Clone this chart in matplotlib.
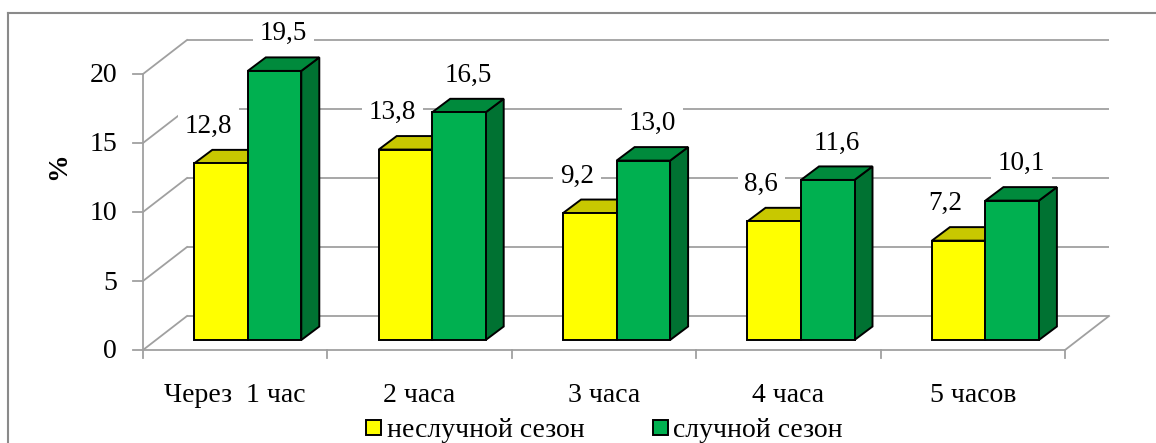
import matplotlib
matplotlib.use('Agg')
import matplotlib.pyplot as plt
from matplotlib.patches import Polygon
from matplotlib.lines import Line2D

# ---------------- data ----------------
categories = ['Через  1 час', '2 часа', '3 часа', '4 часа', '5 часов']
series_names = ['неслучной сезон', 'случной сезон']
off_season = [12.8, 13.8, 9.2, 8.6, 7.2]
mating_season = [19.5, 16.5, 13.0, 11.6, 10.1]
y_ticks = [0, 5, 10, 15, 20]
y_label = '%'

# ---------------- style ----------------
FONT = 'Liberation Serif'
FS_TICK = 20
FS_CAT = 20
FS_VAL = 19.5
FS_LEG = 20
front_colors = ['#FFFF00', '#00B050']
top_colors = ['#C8C800', '#008A3C']
side_colors = ['#A8A800', '#007232']
grid_color = '#A0A0A0'

W, H = 1156, 443
fig = plt.figure(figsize=(W / 100, H / 100), dpi=100)
ax = fig.add_axes([0, 0, 1, 1])

# pixel scale of the front plane (category units / value units)
cat_px = 184.4
val_px = 13.8
x0_px, y0_px = 143, 350
ax.set_xlim(-x0_px / cat_px, (W - x0_px) / cat_px)
ax.set_ylim((y0_px - H) / val_px, y0_px / val_px)
ax.axis('off')

PX = 1 / cat_px
PY = 1 / val_px
n = len(categories)
ymax = y_ticks[-1]

# depth of the 3D box
DX, DY = 44 * PX, 34 * PY
# bar geometry
bar_w = 53.5 * PX
fdx, fdy = 12.6 * PX, 10 * PY      # bar front plane offset
bdx, bdy = 18 * PX, 13.5 * PY      # bar depth

lw_grid = 1.3
# back wall gridlines
for t in y_ticks:
    ax.plot([DX, n + DX], [t + DY, t + DY], color=grid_color, lw=lw_grid, zorder=1,
            solid_capstyle='butt')
    ax.plot([0, DX], [t, t + DY], color=grid_color, lw=lw_grid, zorder=1)
    ax.plot([0, -10 * PX], [t, t], color=grid_color, lw=lw_grid, zorder=1)
    ax.text(-26 * PX, t - 2 * PY, str(t), ha='right', va='center', fontsize=FS_TICK,
            family=FONT, color='black')
# front axes
ax.plot([0, 0], [0, ymax], color=grid_color, lw=lw_grid, zorder=1)
ax.plot([0, n], [0, 0], color=grid_color, lw=lw_grid, zorder=1)
ax.plot([n, n + DX], [0, DY], color=grid_color, lw=lw_grid, zorder=1)
for i in range(n + 1):
    ax.plot([i, i], [0, -8 * PY], color=grid_color, lw=lw_grid, zorder=1)

# category labels
for i, c in enumerate(categories):
    ax.text(i + 0.5, -52 * PY, c, ha='center', va='baseline', fontsize=FS_CAT,
            family=FONT, color='black')


def draw_bar(xl, v, k):
    b = fdy
    front = [(xl, b), (xl + bar_w, b), (xl + bar_w, b + v), (xl, b + v)]
    top = [(xl, b + v), (xl + bar_w, b + v), (xl + bar_w + bdx, b + v + bdy),
           (xl + bdx, b + v + bdy)]
    side = [(xl + bar_w, b), (xl + bar_w + bdx, b + bdy),
            (xl + bar_w + bdx, b + v + bdy), (xl + bar_w, b + v)]
    for poly, col in ((side, side_colors[k]), (top, top_colors[k]), (front, front_colors[k])):
        ax.add_patch(Polygon(poly, closed=True, facecolor=col, edgecolor='black',
                             lw=1.4, joinstyle='miter', zorder=2))


label_dx = [-13 * PX, 9 * PX]
for i in range(n):
    cx = i + 0.5 + fdx
    for k, vals in enumerate([off_season, mating_season]):
        v = vals[i]
        xl = cx - bar_w if k == 0 else cx
        draw_bar(xl, v, k)
        lx = xl + bar_w / 2 + label_dx[k]
        ly = fdy + v + 37 * PY
        ax.text(lx, ly, f'{v:.1f}'.replace('.', ','), ha='center', va='center',
                fontsize=FS_VAL, family=FONT, color='black', zorder=3,
                bbox=dict(boxstyle='square,pad=0.25', facecolor='white',
                          edgecolor='none'))

# y label
fig.text(59 / W, 1 - 166 / H, y_label, rotation=90, ha='center', va='center',
         fontsize=20, fontweight='bold', family=FONT)

# legend
leg_items = [(366, 387), (653, 673)]
for k, (sx, tx) in enumerate(leg_items):
    ax.add_patch(Polygon([((sx - x0_px) * PX, (y0_px - 435) * PY),
                          ((sx + 15 - x0_px) * PX, (y0_px - 435) * PY),
                          ((sx + 15 - x0_px) * PX, (y0_px - 420) * PY),
                          ((sx - x0_px) * PX, (y0_px - 420) * PY)],
                         closed=True, facecolor=front_colors[k], edgecolor='black',
                         lw=1.4, zorder=3))
    ax.text((tx - x0_px) * PX, (y0_px - 437) * PY, series_names[k], ha='left',
            va='baseline', fontsize=FS_LEG, family=FONT, color='black')

# outer border (top and left visible)
fig.add_artist(Line2D([8 / W, 1], [1 - 13 / H, 1 - 13 / H], transform=fig.transFigure,
                      color='#8A8A8A', lw=1.5))
fig.add_artist(Line2D([8 / W, 8 / W], [0, 1 - 13 / H], transform=fig.transFigure,
                      color='#8A8A8A', lw=1.5))

fig.savefig('out.png', dpi=100, facecolor='white')
